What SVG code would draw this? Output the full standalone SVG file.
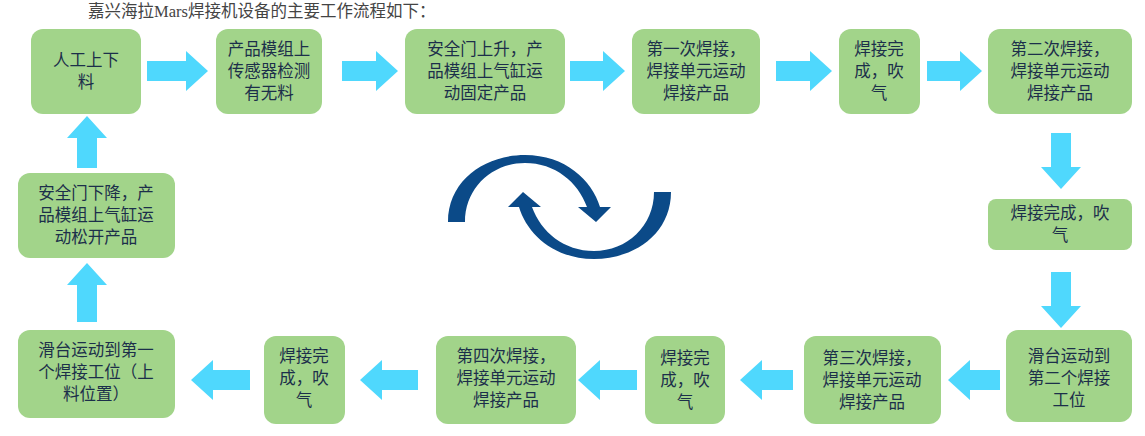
<svg xmlns="http://www.w3.org/2000/svg" width="1145" height="436" viewBox="0 0 1145 436">
<style>
.b{fill:#a2d48a}
.t{font-family:"Liberation Sans","Noto Sans CJK SC",sans-serif;font-size:16.5px;fill:#1c2f4a;text-anchor:middle}
.a{fill:#4fd8fd}
.c{fill:#0b4a88}
</style>
<rect width="1145" height="436" fill="#fff"/>
<text x="88" y="17" style="font-family:'Liberation Serif','Noto Sans CJK SC',serif;font-size:16.5px;fill:#444">嘉兴海拉Mars焊接机设备的主要工作流程如下：</text>
<g id="n1"><rect class="b" x="31" y="29" width="110" height="85" rx="12"/><text class="t" x="86" y="66">人工上下</text><text class="t" x="86" y="88">料</text></g>
<g id="n2"><rect class="b" x="216" y="29" width="106" height="85" rx="12"/><text class="t" x="269" y="55">产品模组上</text><text class="t" x="269" y="77">传感器检测</text><text class="t" x="269" y="99">有无料</text></g>
<g id="n3"><rect class="b" x="405" y="29" width="160" height="85" rx="12"/><text class="t" x="485" y="55">安全门上升，产</text><text class="t" x="485" y="77">品模组上气缸运</text><text class="t" x="485" y="99">动固定产品</text></g>
<g id="n4"><rect class="b" x="632" y="29" width="128" height="85" rx="12"/><text class="t" x="696" y="55">第一次焊接，</text><text class="t" x="696" y="77">焊接单元运动</text><text class="t" x="696" y="99">焊接产品</text></g>
<g id="n5"><rect class="b" x="839" y="29" width="81" height="85" rx="12"/><text class="t" x="879" y="55">焊接完</text><text class="t" x="879" y="77">成，吹</text><text class="t" x="879" y="99">气</text></g>
<g id="n6"><rect class="b" x="988" y="29" width="144" height="85" rx="12"/><text class="t" x="1060" y="55">第二次焊接，</text><text class="t" x="1060" y="77">焊接单元运动</text><text class="t" x="1060" y="99">焊接产品</text></g>
<g id="n7"><rect class="b" x="988" y="199" width="144" height="51" rx="8"/><text class="t" x="1060" y="219">焊接完成，吹</text><text class="t" x="1060" y="241">气</text></g>
<g id="n8"><rect class="b" x="1006" y="330" width="126" height="92" rx="12"/><text class="t" x="1069" y="362">滑台运动到</text><text class="t" x="1069" y="384">第二个焊接</text><text class="t" x="1069" y="406">工位</text></g>
<g id="n9"><rect class="b" x="804" y="336" width="137" height="88" rx="12"/><text class="t" x="872" y="364">第三次焊接，</text><text class="t" x="872" y="386">焊接单元运动</text><text class="t" x="872" y="408">焊接产品</text></g>
<g id="n10"><rect class="b" x="645" y="336" width="80" height="88" rx="12"/><text class="t" x="685" y="364">焊接完</text><text class="t" x="685" y="386">成，吹</text><text class="t" x="685" y="408">气</text></g>
<g id="n11"><rect class="b" x="436" y="336" width="140" height="88" rx="12"/><text class="t" x="506" y="362">第四次焊接，</text><text class="t" x="506" y="384">焊接单元运动</text><text class="t" x="506" y="406">焊接产品</text></g>
<g id="n12"><rect class="b" x="264" y="336" width="81" height="88" rx="12"/><text class="t" x="304" y="362">焊接完</text><text class="t" x="304" y="384">成，吹</text><text class="t" x="304" y="406">气</text></g>
<g id="n13"><rect class="b" x="18" y="330" width="157" height="88" rx="12"/><text class="t" x="96" y="356">滑台运动到第一</text><text class="t" x="96" y="378">个焊接工位（上</text><text class="t" x="96" y="400">料位置）</text></g>
<g id="n14"><rect class="b" x="18" y="173" width="157" height="85" rx="12"/><text class="t" x="96" y="199">安全门下降，产</text><text class="t" x="96" y="221">品模组上气缸运</text><text class="t" x="96" y="243">动松开产品</text></g>
<g id="connectors">
<polygon class="a" points="147,61 186,61 186,51 208,71 186,91 186,81 147,81"/>
<polygon class="a" points="342,61 376,61 376,51 398,71 376,91 376,81 342,81"/>
<polygon class="a" points="570,61 603,61 603,51 625,71 603,91 603,81 570,81"/>
<polygon class="a" points="776,61 810,61 810,51 832,71 810,91 810,81 776,81"/>
<polygon class="a" points="927,61 960,61 960,51 982,71 960,91 960,81 927,81"/>
<polygon class="a" points="1051,133 1071,133 1071,167 1081,167 1061,189 1041,167 1051,167"/>
<polygon class="a" points="1051,272 1071,272 1071,306 1081,306 1061,328 1041,306 1051,306"/>
<polygon class="a" points="1000,370 970,370 970,360 948,380 970,400 970,390 1000,390"/>
<polygon class="a" points="793,370 762,370 762,360 740,380 762,400 762,390 793,390"/>
<polygon class="a" points="637,370 600,370 600,360 578,380 600,400 600,390 637,390"/>
<polygon class="a" points="418,370 382,370 382,360 360,380 382,400 382,390 418,390"/>
<polygon class="a" points="250,370 213,370 213,360 191,380 213,400 213,390 250,390"/>
<polygon class="a" points="77,168 97,168 97,138 107,138 87,116 67,138 77,138"/>
<polygon class="a" points="77,322 97,322 97,285 107,285 87,263 67,285 77,285"/>
</g>
<g id="cycle">
<path class="c" d="M448,222 C448,180 485,155 525,155 C565,155 592,180 600,207 L611,207 L596,222 L578,207 L587,207 C578,182 555,163 525,163 C492,163 465,188 465,222 Z"/>
<path class="c" transform="rotate(180 559.5 207)" d="M448,222 C448,180 485,155 525,155 C565,155 592,180 600,207 L611,207 L596,222 L578,207 L587,207 C578,182 555,163 525,163 C492,163 465,188 465,222 Z"/>
</g>
</svg>
